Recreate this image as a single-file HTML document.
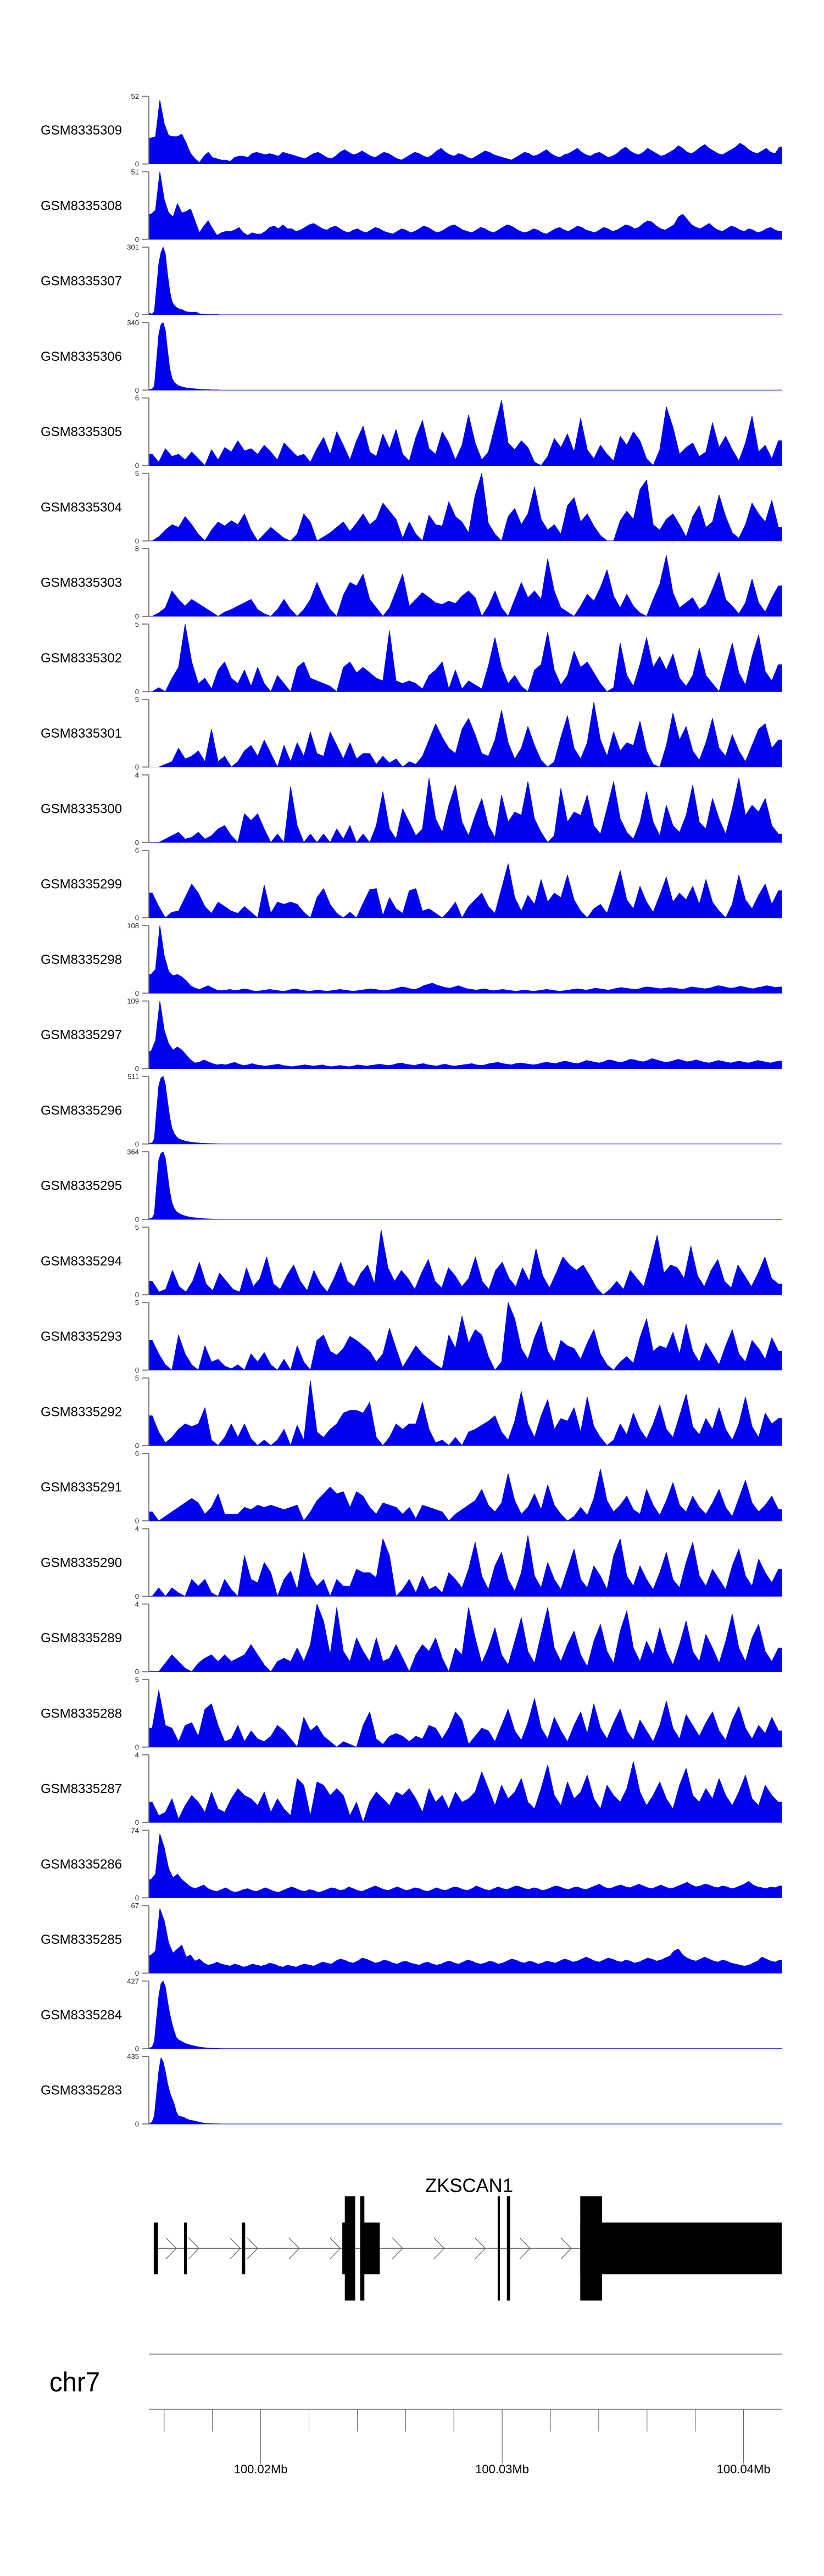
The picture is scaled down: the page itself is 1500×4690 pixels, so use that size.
<!DOCTYPE html>
<html><head><meta charset="utf-8"><title>ZKSCAN1 coverage tracks</title>
<style>html,body{margin:0;padding:0;background:#fff}svg{display:block}text{font-family:"Liberation Sans",Arial,sans-serif}</style>
</head><body>
<svg id="chart" xmlns="http://www.w3.org/2000/svg" width="1500" height="4690" viewBox="0 0 1500 4690">
<rect x="0" y="0" width="1500" height="4690" fill="#fff"/>
<g id="tracks"></g>
<g id="gene"></g>
<g id="axis"></g>
</svg>
<script>
const regionStart = 100015367;
const regionEnd = 100041579;
const trackNames = ["GSM8335309","GSM8335308","GSM8335307","GSM8335306","GSM8335305","GSM8335304","GSM8335303","GSM8335302","GSM8335301","GSM8335300","GSM8335299","GSM8335298","GSM8335297","GSM8335296","GSM8335295","GSM8335294","GSM8335293","GSM8335292","GSM8335291","GSM8335290","GSM8335289","GSM8335288","GSM8335287","GSM8335286","GSM8335285","GSM8335284","GSM8335283"];
const trackMax = [52,51,301,340,6,5,8,5,5,4,6,108,109,511,364,5,5,5,6,4,4,5,4,74,67,427,435];
const peakBinCount = 288;
const v309=[20,21,49,31,22,21,21,23,16,8,4,1,6,9,5,4,3,3,2,5,6,6,5,8,9,8,7,8,7,6,9,8,7,6,5,4,6,8,9,7,5,4,6,9,11,9,7,8,10,8,6,5,7,9,8,6,4,3,5,7,9,8,6,5,7,10,12,9,7,6,8,7,5,4,6,8,10,9,7,6,5,4,3,5,7,9,8,6,7,9,11,8,6,5,7,8,10,12,9,7,6,8,9,7,5,6,8,11,13,10,8,7,9,12,10,8,6,7,9,11,14,12,9,8,10,13,15,12,10,8,7,9,11,13,16,14,11,9,8,10,12,9,8,13];
const v308=[19,22,51,30,20,17,27,20,21,23,14,5,10,14,8,3,5,6,6,7,9,5,3,5,4,4,6,9,10,8,11,8,8,6,7,9,11,12,10,8,7,9,10,8,6,5,7,8,6,5,7,9,8,6,5,4,6,8,7,5,6,8,10,9,7,5,6,8,10,11,9,7,6,5,7,9,8,6,5,7,9,11,10,8,6,5,6,8,7,5,4,6,8,9,7,6,8,10,9,7,6,5,7,9,8,6,7,9,11,10,8,9,12,14,13,10,8,7,9,11,17,19,15,11,9,8,10,12,9,7,6,8,10,9,7,6,8,7,5,6,8,9,7,6];
const v307=[6,3,15,120,226,277,301,271,181,105,60,42,33,27,24,21,15,12,12,11,11,12,6,3,2,2,1,1,1,1,1,1];
const v306=[4,5,20,150,280,330,340,300,200,110,60,40,30,22,18,15,12,10,9,8,7,6,5,4,3,3,2,2,1,1,1,1];
const v305=[1,0.3,1.5,0.8,1,0.5,1.2,0.6,0,1.4,0.5,1.6,1.2,2.2,1.3,1.5,1,1.8,1.2,0.5,2,1.4,0.8,1,0.3,1.5,2.5,1,3,1.8,0.5,2.2,3.5,1.2,0.8,2.8,1.5,3.2,1,0.4,2.5,4,1.5,1,3,2,0.5,1.8,4.5,2,0.5,1.2,3.5,5.8,2,1.4,2.2,1.6,0.3,0,0.8,2.4,1.6,2.8,1.2,4.2,1.4,0.6,1.8,1,0.4,2.6,1.8,3,2.2,0.6,0,1.4,5.2,3.4,1,1.6,2,0.8,1.2,3.8,1.6,2.6,1.4,0.4,2,4.4,1.2,1.8,0.6,2.2];
const v304=[0,0.3,0.8,1.2,1,1.8,1.2,0.5,0,0.8,1.4,1.1,1.5,1.2,2,0.8,0,0.5,1,0.6,0.2,0,0.5,2,1.4,0,0.3,0.6,1,1.4,0.7,1.3,2,1.2,1.6,2.8,2.2,1.6,0.2,1.4,0.5,0,1.9,1.2,1.1,2.9,1.8,1.4,0.6,3.4,5,1.3,0.5,0,1.8,2.4,1.2,2,4,1.6,0.8,1.2,0.5,2.6,3.2,1.4,2,1.1,0.4,0,0,1.5,2.2,1.6,3.8,4.5,1.2,0.8,1.6,2,1.2,0.3,1.8,2.6,1,1.4,3.4,1.8,0.6,0.2,1.2,2.8,2,1.4,3,1];
const v303=[0,0.4,1,3,2,1.2,2,1.5,1,0.5,0,0.5,0.8,1.2,1.6,2,0.8,0.3,0,0.8,2,0.8,0,0.8,2,4,2.2,0.8,0,2.5,4,3.6,5,2,1,0,1,3,5,1.2,2,2.8,2.2,1.6,1.4,1.8,1.5,2.4,3,2.2,0,1.2,3,1,0,2,4,2.2,3,2,6.8,3,1,0.5,0,1.2,2.6,1.8,3.4,5.5,2.4,1,2.6,1.2,0.4,0,2,3.8,7.2,2.8,1,1.6,2.2,0.8,1.4,3.2,5.2,2,1.2,0.3,1.6,4.4,1.6,0.5,2.2,3.6];
const v302=[0,0.3,0,1,1.8,5,2.2,0.6,1,0.2,1.6,2.2,1,0.6,1.6,0.4,1.8,0.6,0,1.2,0.6,0,1.8,2.2,1,0.8,0.6,0.4,0,1.8,2.2,1.4,1.8,1.4,1,0.8,4.5,0.8,0.6,0.8,0.6,0.2,1.2,1.6,2.2,0.2,1.6,0.2,0.8,0.5,0.2,1.9,4,1.8,0.6,1.2,0.4,0,1.6,2,4.4,1.6,0.5,1.2,3,1.8,2.2,1.4,0.6,0,0.3,3.6,1.2,0.4,2,4,1.8,2.6,1.6,2.8,1,0.4,1.2,3.2,1.2,0.6,0,1.8,3.6,1.4,0.5,2.6,4.2,1.5,0.8,2];
const v301=[0,0,0.2,0.4,1.4,0.6,0.8,1.2,0.4,2.8,0.4,0.8,0,0.4,1.2,1.6,0.8,2,1,0,1.6,0.4,1.8,0.8,2.6,1,0.8,2.6,1.6,0.6,1.8,0.6,1,1,0.2,0.8,0.3,0.6,0,0.4,0.2,0.8,2,3.2,2.2,1.4,1,2.8,3.6,2.4,1,0.8,2,4.2,1.8,0.6,1.4,3,1.6,0.5,0,0.4,2.2,3.8,1.4,0.6,1.8,4.8,2,0.8,2.6,1.2,1.8,1.6,3.4,1.2,0.2,0,1.6,4,2,3,1.2,0.5,1.8,3.6,1.4,0.8,2.4,1.2,0.4,1.6,2.8,3.2,1.4,2];
const v300=[0,0,0.2,0.4,0.6,0.2,0.3,0.6,0.2,0.4,0.8,1,0.4,0,1.7,1.3,1.7,0.8,0,0.5,0,3.3,1,0,0.5,0,0.5,0,0.8,0.2,1,0,0.5,0,1,3,0.8,0.2,2,1.2,0.4,0.8,3.8,1.4,0.6,2.2,3.4,1.2,0.4,1.6,2.6,1,0.3,2.8,1.2,1.8,1.6,3.6,1.4,0.6,0,0.4,3.2,1.2,1.8,1.6,2.8,1,0.5,2,3.6,1.4,0.6,0.2,1.2,3,1.2,0.4,2.2,1,0.6,1.6,3.4,1.2,0.8,2.6,1.4,0.5,2,3.8,1.6,2.2,1.8,2.6,1,0.5];
const v299=[2.2,1,0,0.5,0.6,1.8,3,2.2,1,0.4,1.4,1,0.6,0.4,1,0.5,0,2.9,0.4,1.4,1.2,1.4,1.2,0.5,0,1.8,2.6,1.2,0.4,0,0.5,0,1.3,2.5,2.6,0.2,1.8,0.8,0.4,2.4,2.6,0.6,0.8,0.4,0,0.6,1.4,0,1,1.6,2.2,1,0.4,2.6,4.8,1.8,0.6,2,1.2,3.4,1.4,2.2,1.8,3.8,1.6,0.6,0,0.8,1.2,0.4,2.2,4.2,1.6,0.8,2.8,1.4,0.5,2,3.6,1.4,2.2,1.6,2.8,1.2,3.4,1.4,0.6,0,1.2,3.8,1.6,0.8,2,3,1.2,2.4];
const v298=[30,38,108,60,35,28,30,26,20,12,8,6,9,12,8,5,4,5,6,4,5,7,6,4,3,4,5,6,5,4,3,4,6,7,5,4,3,4,5,4,3,4,5,6,5,4,3,4,5,6,7,6,5,4,5,6,8,10,9,7,6,8,12,14,16,13,11,9,8,10,12,9,7,6,5,6,7,5,4,5,6,5,4,3,4,5,4,3,4,5,6,5,4,3,4,5,6,7,6,5,6,8,7,6,5,6,8,9,8,7,6,7,9,10,9,8,7,8,9,8,7,6,8,10,9,8,7,8,10,12,11,9,8,9,11,10,8,7,9,10,12,11,9,10];
const v297=[28,45,109,62,40,30,35,30,22,14,9,10,14,11,8,6,7,6,8,10,7,5,6,8,6,5,4,5,6,7,5,4,3,4,5,6,5,4,5,6,4,3,4,5,4,3,4,6,5,4,5,6,7,6,5,6,8,9,7,6,5,7,8,6,5,4,6,7,5,4,5,6,7,8,6,5,6,8,9,10,8,7,6,8,9,8,7,6,7,9,10,9,8,10,12,11,9,8,10,13,12,10,9,11,14,13,11,10,12,15,14,12,11,13,16,14,12,10,11,13,15,13,11,12,14,12,10,9,11,13,12,10,9,11,12,10,9,11,13,12,10,9,11,12];
const v296=[5,8,40,250,440,500,511,450,320,200,120,80,55,40,33,28,22,18,15,12,10,9,8,6,5,4,3,3,2,2,1,1];
const v295=[4,6,30,180,320,355,364,330,240,150,90,60,42,33,27,22,18,15,12,10,9,8,6,5,4,3,3,2,2,1,1,1];
const v294=[1,0.2,0.4,1.8,0.6,0.2,1,2.4,0.8,0.3,1.6,1,0.4,0.2,2,0.6,1.2,2.8,0.8,0.4,1.4,2.2,1,0.3,1.8,0.8,0.2,1.2,2.4,1,0.6,1.6,2.2,0.8,4.8,2,1,1.8,1.2,0.4,1.6,2.6,1,0.5,2,1.4,0.6,1.2,2.8,1,0.4,1.8,2.4,1.2,0.6,2,1,3.4,1.4,0.5,1.6,2.8,2.2,1.8,2.2,1.4,0.5,0,0.4,1,0.4,1.8,1.2,0.6,2.4,4.4,1.6,2.2,2,1.2,3.6,1.4,0.6,1.8,2.6,1,0.5,2.2,1.4,0.6,1.6,2.8,1.2,0.8];
const v293=[2.2,1.2,0.4,0,2.6,1.2,0.4,0,1.8,0.6,0.8,0.3,0.1,0.4,0,1.2,0.6,1.3,0.4,0,0.8,0,1.8,0.6,0,2.2,2.6,1.4,1.1,1.6,2.5,2.2,1.8,1.4,0.6,1.2,3.1,1.6,0.2,1,1.8,1.2,0.8,0.4,0.1,2.6,1.6,4,2,3,2.6,1,0,0.6,5,3.8,1.6,0.8,2.4,3.6,1.4,0.6,2.2,1.8,1.6,0.8,2,3,1.2,0.4,0,0.6,1,0.5,2.4,3.8,1.4,1.8,1.6,2.8,1.2,3.4,1.4,0.6,2,1.2,0.4,1.8,3,1.2,0.6,2.2,1.6,0.8,2.4,1.4];
const v292=[2.2,1,0.2,0.6,1.2,1.6,1.4,1.6,2.8,0.4,0,0.6,1.6,0.6,1.6,0.5,0,0.4,0,0.4,1.2,0,1.5,0.4,4.8,1,0.6,1.2,1.6,2.4,2.6,2.6,2.4,3.2,0.6,0,0.6,1.6,1.2,1.6,1.6,3.2,1.2,0.2,0.4,0,0.6,0,1,1.2,1.5,1.8,2.2,1,0.4,1.8,4,1.6,0.6,2.2,3.4,1.2,2,1.8,2.8,1,3.6,1.4,0.6,0,0.4,1.6,0.8,2.4,1.2,0.5,1.6,3,1.2,0.6,2.2,3.8,1.4,0.8,2,1.2,2.8,1.2,0.4,1.6,3.6,1.4,0.6,2.4,1.6,2];
const v291=[0.8,0,0.4,0.8,1.2,1.6,2,1.6,0.6,1.2,2.4,0.6,0.6,0.6,1.2,1,1.4,1.2,1.4,1.2,1,1.2,1.4,0,0.8,1.8,2.4,3,2.4,2.6,1.2,2.6,2.2,1.2,0.6,1.6,1.4,1.2,0.6,1.2,0.2,1.4,1.2,1,0.8,0,0.6,1,1.4,1.8,2.8,1.4,0.8,1.6,4.2,1.8,0.6,1.2,2.4,1,3.2,1.4,0.6,0,0.4,1.2,0.5,2,4.6,1.8,0.8,1.4,2.2,1,0.6,2.8,1.4,0.5,1.8,3.4,1.4,0.8,2.2,1.2,0.6,1.6,2.8,1.2,0.4,2,3.6,1.6,0.8,1.4,2.2,1];
const v290=[0,0.5,0,0.5,0.2,0,1,0.6,1,0.2,0,1,0.4,0,2.4,1,0.8,2,1.4,0,1,1.5,0.4,2.6,1.2,0.6,1,0,1,0.6,0.6,1.6,1.4,1.4,1.1,3.4,2.4,0,0.4,1,0.2,1.2,0.4,0.6,0.2,1.4,1,0.5,1.6,3.2,1.2,0.4,1.8,2.6,1,0.3,1.4,3.6,1.2,0.5,2,1,0.4,1.6,2.8,1,0.5,1.8,1.2,0.4,2.4,3.4,1.2,0.6,1.8,1,0.4,1.4,2.6,1,0.5,2,3.2,1.2,0.6,1.6,1,0.4,1.8,2.8,1.2,0.6,2.2,1.4,0.8,1.6];
const v289=[0,0,0.5,1,0.6,0.2,0,0.5,0.8,1,0.6,1,0.6,0.8,1,1.6,1,0.4,0,0.6,0.8,0.6,1.4,0.6,1.6,4,3,1,3.8,1.2,0.6,2,1.2,0.6,2,0.6,0.8,1.6,0.8,0,1,1.6,1.2,2,0.8,0,1.4,1,3.8,2,0.5,1.4,2.6,1,0.4,1.8,3.2,1.2,0.5,2.2,3.8,1.4,0.6,1.6,2.4,1,0.3,1.8,2.8,1.2,0.5,2.4,3.6,1.4,0.6,1.8,1,2.6,1.2,0.4,1.6,3,1.2,0.6,2.2,1.4,0.5,1.8,3.4,1.4,0.6,2,2.8,1.2,0.6,1.4];
const v288=[1.4,4.2,1.6,1.4,0.4,1.6,1.8,0.8,2.8,3.2,1.6,0.4,0.6,1.6,0.4,1.2,0.6,0.4,0.8,1.6,1.2,0.6,0,2.2,1.2,1.6,0.8,0.4,0,0.4,0.2,0,1.6,2.6,0.6,0.2,0.8,1,0.8,0.4,0.8,0.6,1.6,1.4,0.6,1.4,2.6,2,0.2,0.8,1.4,1.2,0.4,1.6,2.8,1.2,0.5,1.8,3.6,1.4,0.6,2.2,1.2,0.4,1.6,2.6,1,3.2,1.4,0.6,1.8,2.8,1.2,0.5,2,1.2,0.4,1.6,3.4,1.4,0.6,2.4,1.6,0.8,1.8,2.6,1.2,0.5,2,3,1.4,0.6,1.6,1,2.2,1.2];
const v287=[1.2,0.4,0.6,1.4,0.2,1,1.6,1.2,0.6,1.8,0.8,0.6,1.4,2,1.6,1.4,1,1.8,0.6,1.4,0.8,0.4,2.6,2.2,0.4,2.4,2.2,1.6,2,1.6,0.4,1.2,0,1.2,1.8,1.4,1,1.8,1.6,2,1.4,0.6,2,1.2,1.6,0.8,1.8,1.2,1.4,1.8,3,2,1,2.2,1.4,1.8,2.6,1.2,0.8,2,3.4,1.6,1,2.4,1.4,1.8,2.8,1.4,0.8,2.2,1.6,1.2,2,3.6,1.8,1,1.6,2.4,1.4,0.8,2.2,3.2,1.6,1.2,2,1.4,2.6,1.6,1,1.8,2.8,1.4,1,2.2,1.6,1.2];
const v286=[20,26,70,55,32,22,26,20,16,12,10,12,14,10,8,7,9,11,8,6,7,9,10,8,7,9,11,9,7,6,8,10,12,10,8,7,9,8,6,7,9,11,10,8,9,12,10,8,7,9,11,13,11,9,8,10,12,10,8,9,11,10,8,7,9,11,9,8,10,12,11,9,8,10,13,11,9,8,10,12,10,9,11,13,12,10,9,11,10,8,9,11,13,12,10,9,11,12,10,9,11,13,15,12,10,11,13,14,12,11,13,15,13,11,10,12,14,12,10,11,13,15,17,14,12,13,15,14,12,11,13,12,10,11,13,15,18,14,12,11,10,12,11,13];
const v285=[18,22,64,52,30,20,24,28,16,18,12,14,10,8,9,11,9,8,7,9,8,6,7,9,8,7,8,10,9,7,6,8,7,6,8,9,8,7,9,11,10,9,12,14,13,11,10,12,15,14,12,10,11,13,12,10,9,11,12,10,9,8,10,11,9,8,9,11,12,10,9,11,13,12,10,9,10,12,11,9,10,12,14,13,11,10,12,11,9,10,12,11,10,12,14,13,11,12,14,16,14,12,11,13,15,14,12,11,13,12,10,11,13,15,14,12,13,15,17,22,24,18,15,13,12,14,16,14,12,11,13,12,10,9,8,7,8,10,12,16,14,12,11,13];
const v284=[4,10,45,190,330,410,427,390,300,220,160,110,70,55,48,40,34,28,24,20,17,14,11,9,7,5,4,3,2,2,1,1];
const v283=[4,13,52,196,339,426,400,339,261,204,165,130,78,52,48,44,39,30,26,22,20,17,13,9,7,4,3,2,2,1,1,1];
const trackValues=[v309,v308,v307,v306,v305,v304,v303,v302,v301,v300,v299,v298,v297,v296,v295,v294,v293,v292,v291,v290,v289,v288,v287,v286,v285,v284,v283];
const peakTracks=[false,false,true,true,false,false,false,false,false,false,false,false,false,true,true,false,false,false,false,false,false,false,false,false,false,true,true];

const geneName="ZKSCAN1";
const geneStart=100015569;
const exonStarts=[100015569,100016823,100019217,100023379,100023483,100024120,100024120,100029814,100030196,100033236,100033236];
const exonEnds  =[100015742,100016944,100019356,100023911,100023911,100024293,100024930,100029909,100030328,100034141,100041579];
const exonTall  =[false,false,false,false,true,true,false,true,true,true,false];
const chevronPos=[100016500,100017440,100019155,100019870,100021594,100023291,100025879,100027595,100029299,100031154,100032860];
const tickPositions=[100016000,100018000,100020000,100022000,100024000,100026000,100028000,100030000,100032000,100034000,100036000,100038000,100040000];
const majorTicks=[100020000,100030000,100040000];
const majorLabels=["100.02Mb","100.03Mb","100.04Mb"];

const NS="http://www.w3.org/2000/svg";
const X0=271,X1=1423;
function xScale(bp){return X0+(bp-regionStart)/(regionEnd-regionStart)*(X1-X0);}
function mk(tag,attrs,parent){const e=document.createElementNS(NS,tag);for(const k in attrs)e.setAttribute(k,attrs[k]);parent.appendChild(e);return e;}

const tg=document.getElementById('tracks');
const TOP0=175.5,PITCH=137.25,TH=123;
trackNames.forEach((name,i)=>{
  const top=TOP0+i*PITCH,bot=top+TH;
  const g=mk('g',{},tg);
  
  
  const lab=mk('text',{x:74,y:top+TH/2+8,'font-size':24,fill:'#000'},g);
  lab.textContent=name;
  
  
  const vals=trackValues[i],mx=trackMax[i];
  const n=peakTracks[i]?peakBinCount:vals.length;
  const bw=(regionEnd-regionStart)/n;
  function yS(v){return bot-(v/mx)*TH;}
  let d='M'+X0+','+bot;
  for(let b=0;b<n;b++){
    const v=b<vals.length?vals[b]:0;
    const xc=xScale(regionStart+(b+0.5)*bw);
    if(b===0)d+=' L'+X0+','+yS(v).toFixed(1);
    d+=' L'+xc.toFixed(1)+','+yS(v).toFixed(1);
    if(b===n-1)d+=' L'+X1+','+yS(v).toFixed(1);
  }
  d+=' L'+X1+','+bot+' Z';
  const p=mk('path',{d:d,fill:'#0000f0',stroke:'#0000f0','stroke-width':1,'stroke-linejoin':'round'},g);
  
  
  const ax=mk('g',{stroke:'#7f7f7f','stroke-width':2},g);
  
  
  mk('line',{x1:X0,y1:top,x2:X0,y2:bot},ax);
  mk('line',{x1:259,y1:top,x2:X0,y2:top},ax);
  mk('line',{x1:259,y1:bot,x2:X0,y2:bot},ax);
  const t1=mk('text',{x:253,y:top+4.5,'font-size':13,'text-anchor':'end',fill:'#222'},g);
  t1.textContent=String(mx);
  
  
  const t0=mk('text',{x:253,y:bot+4.5,'font-size':13,'text-anchor':'end',fill:'#222'},g);
  t0.textContent='0';
  
  
});

// gene track
const gg=document.getElementById('gene');
const LY=4093.5,SH=47,TH2=95;
const gl=mk('line',{x1:xScale(geneStart),y1:LY,x2:X1,y2:LY,stroke:'#666','stroke-width':1.5},gg);


chevronPos.forEach(c=>{
  const x=xScale(c);
  const pl=mk('polyline',{points:(x-19)+','+(LY-19.5)+' '+x+','+LY+' '+(x-19)+','+(LY+19.5),fill:'none',stroke:'#555','stroke-width':1.2},gg);
  
  
});
exonStarts.forEach((s,i)=>{
  const x=xScale(s),w=Math.max(xScale(exonEnds[i])-x,2);
  const h=exonTall[i]?TH2:SH;
  const r=mk('rect',{x:x,y:LY-h,width:w,height:2*h,fill:'#000'},gg);
  
  
});
const gn=mk('text',{x:774,y:3991,'font-size':35,textLength:160,lengthAdjust:'spacingAndGlyphs',fill:'#000'},gg);
gn.textContent=geneName;



// axis
const ag=document.getElementById('axis');
const al=mk('line',{x1:X0,y1:4286,x2:X1,y2:4286,stroke:'#777','stroke-width':1.5},ag);


const bl=mk('line',{x1:X0,y1:4386.5,x2:X1,y2:4386.5,stroke:'#777','stroke-width':1.5},ag);


const chr=mk('text',{x:90,y:4354,'font-size':50,textLength:92,lengthAdjust:'spacingAndGlyphs',fill:'#000'},ag);
chr.textContent='chr7';


tickPositions.forEach(t=>{
  const x=xScale(t);
  const major=majorTicks.indexOf(t)>=0;
  const ln=mk('line',{x1:x,y1:4386.5,x2:x,y2:major?4485:4427,stroke:'#555','stroke-width':1},ag);
  
  
});
majorTicks.forEach((t,i)=>{
  const tx=mk('text',{x:xScale(t),y:4503,'font-size':22,'text-anchor':'middle',fill:'#000'},ag);
  tx.textContent=majorLabels[i];
  
  
});
</script>
</body></html>
